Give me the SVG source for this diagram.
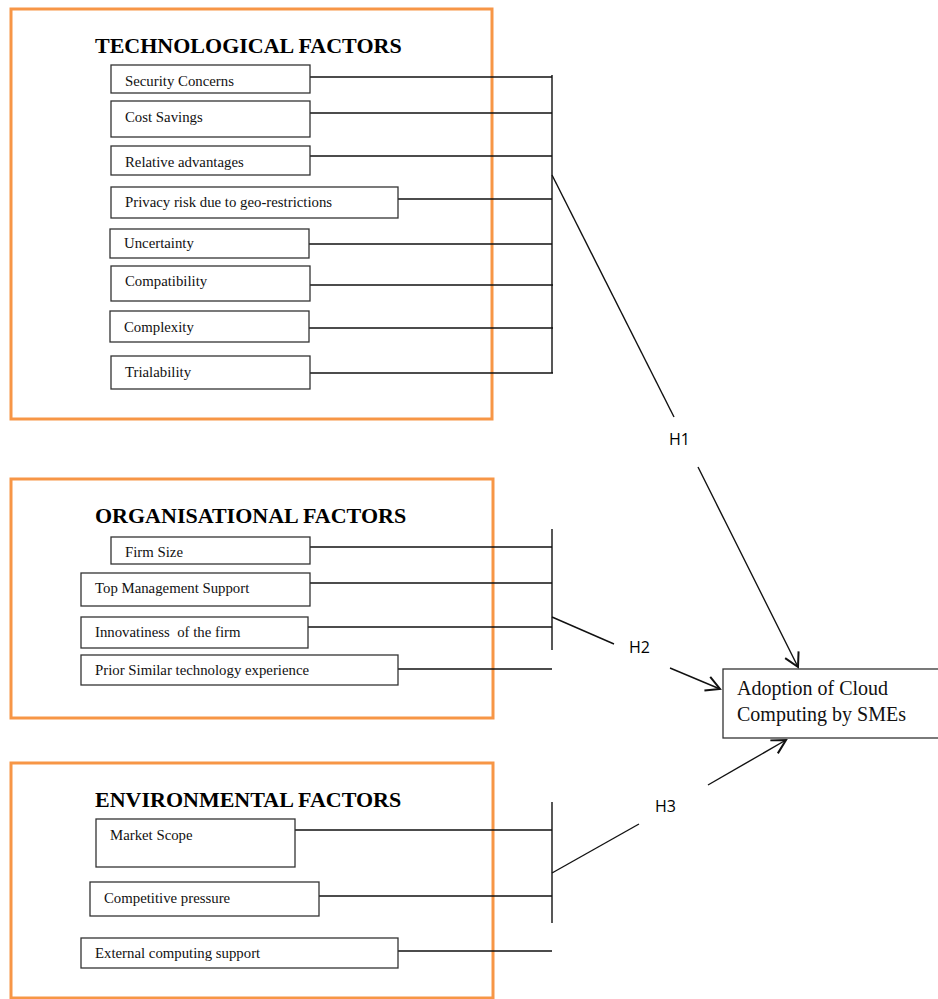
<svg xmlns="http://www.w3.org/2000/svg" width="938" height="999" viewBox="0 0 938 999">
<defs>
<style>
.grp{fill:#fff;stroke:#F79646;stroke-width:3}
.box{fill:#fff;stroke:#333;stroke-width:1.3}
.lbl{font-family:"Liberation Serif","Times New Roman",serif;font-size:14.8px;fill:#111}
.ttl{font-family:"Liberation Serif","Times New Roman",serif;font-size:22px;font-weight:bold;fill:#000}
.hyp{font-family:"Open Sans","Liberation Sans",sans-serif;font-size:16px;fill:#000}
.ln{stroke:#111;stroke-width:1.4;fill:none}
.big{font-family:"Liberation Serif","Times New Roman",serif;font-size:20px;fill:#111}
</style>
<marker id="arr" markerUnits="userSpaceOnUse" markerWidth="20" markerHeight="20" refX="0" refY="0" viewBox="-12 -8 14 16" orient="auto">
<path d="M-11,-6 L0,0 L-11,6" fill="none" stroke="#111" stroke-width="1.6"/>
</marker>
</defs>
<rect width="938" height="999" fill="#fff"/>

<g id="tech-group">
<rect class="grp" x="11" y="9" width="481" height="410"/>
<text class="ttl" x="95" y="53">TECHNOLOGICAL FACTORS</text>
</g>
<g id="org-group">
<rect class="grp" x="11" y="479" width="482" height="239"/>
<text class="ttl" x="95" y="523">ORGANISATIONAL FACTORS</text>
</g>
<g id="env-group">
<rect class="grp" x="11" y="763" width="482" height="235"/>
<text class="ttl" x="95" y="807">ENVIRONMENTAL FACTORS</text>
</g>

<g id="connectors">
<line class="ln" x1="310" y1="77" x2="552" y2="77"/>
<line class="ln" x1="310" y1="113" x2="552" y2="113"/>
<line class="ln" x1="310" y1="156" x2="552" y2="156"/>
<line class="ln" x1="398" y1="199" x2="552" y2="199"/>
<line class="ln" x1="309" y1="244" x2="552" y2="244"/>
<line class="ln" x1="309" y1="285" x2="553" y2="285"/>
<line class="ln" x1="309" y1="328" x2="553" y2="328"/>
<line class="ln" x1="310" y1="373" x2="553" y2="373"/>
<line class="ln" x1="552" y1="75" x2="552" y2="373"/>
<line class="ln" x1="552" y1="175" x2="674" y2="417"/>
<line class="ln" x1="698" y1="467" x2="798" y2="667" marker-end="url(#arr)"/>

<line class="ln" x1="310" y1="547" x2="552" y2="547"/>
<line class="ln" x1="310" y1="583" x2="552" y2="583"/>
<line class="ln" x1="308" y1="627" x2="552" y2="627"/>
<line class="ln" x1="398" y1="669" x2="552" y2="669"/>
<line class="ln" x1="552" y1="529" x2="552" y2="650"/>
<line class="ln" x1="552" y1="617" x2="614" y2="644"/>
<line class="ln" x1="670" y1="668" x2="720" y2="689" marker-end="url(#arr)"/>

<line class="ln" x1="295" y1="830" x2="552" y2="830"/>
<line class="ln" x1="319" y1="896" x2="552" y2="896"/>
<line class="ln" x1="398" y1="951" x2="552" y2="951"/>
<line class="ln" x1="552" y1="802" x2="552" y2="923"/>
<line class="ln" x1="552" y1="873" x2="639" y2="824"/>
<line class="ln" x1="708" y1="785" x2="786" y2="740" marker-end="url(#arr)"/>

<text class="hyp" x="669" y="445">H1</text>
<text class="hyp" x="629" y="653">H2</text>
<text class="hyp" x="655" y="812">H3</text>
</g>

<g id="security"><rect class="box" x="111" y="65" width="199" height="28"/><text class="lbl" x="125" y="86">Security Concerns</text></g>
<g id="cost"><rect class="box" x="111" y="101" width="199" height="36"/><text class="lbl" x="125" y="122">Cost Savings</text></g>
<g id="relative"><rect class="box" x="111" y="146" width="199" height="29"/><text class="lbl" x="125" y="167">Relative advantages</text></g>
<g id="privacy"><rect class="box" x="111" y="187" width="287" height="31"/><text class="lbl" x="125" y="207">Privacy risk due to geo-restrictions</text></g>
<g id="uncertainty"><rect class="box" x="110" y="229" width="199" height="29"/><text class="lbl" x="124" y="248">Uncertainty</text></g>
<g id="compatibility"><rect class="box" x="111" y="266" width="199" height="35"/><text class="lbl" x="125" y="286">Compatibility</text></g>
<g id="complexity"><rect class="box" x="110" y="311" width="199" height="31"/><text class="lbl" x="124" y="332">Complexity</text></g>
<g id="trialability"><rect class="box" x="111" y="356" width="199" height="33"/><text class="lbl" x="125" y="377">Trialability</text></g>

<g id="firmsize"><rect class="box" x="111" y="537" width="199" height="27"/><text class="lbl" x="125" y="557">Firm Size</text></g>
<g id="topmgmt"><rect class="box" x="81" y="573" width="229" height="33"/><text class="lbl" x="95" y="593">Top Management Support</text></g>
<g id="innovativeness"><rect class="box" x="81" y="617" width="227" height="31"/><text class="lbl" x="95" y="637" xml:space="preserve">Innovatiness  of the firm</text></g>
<g id="prior"><rect class="box" x="81" y="655" width="317" height="30"/><text class="lbl" x="95" y="675">Prior Similar technology experience</text></g>

<g id="marketscope"><rect class="box" x="96" y="819" width="199" height="48"/><text class="lbl" x="110" y="840">Market Scope</text></g>
<g id="competitive"><rect class="box" x="90" y="882" width="229" height="34"/><text class="lbl" x="104" y="903">Competitive pressure</text></g>
<g id="external"><rect class="box" x="81" y="938" width="317" height="30"/><text class="lbl" x="95" y="958">External computing support</text></g>

<g id="adoption"><rect class="box" x="723" y="669" width="220" height="69"/><text class="big" x="737" y="695">Adoption of Cloud</text><text class="big" x="737" y="721">Computing by SMEs</text></g>
</svg>
